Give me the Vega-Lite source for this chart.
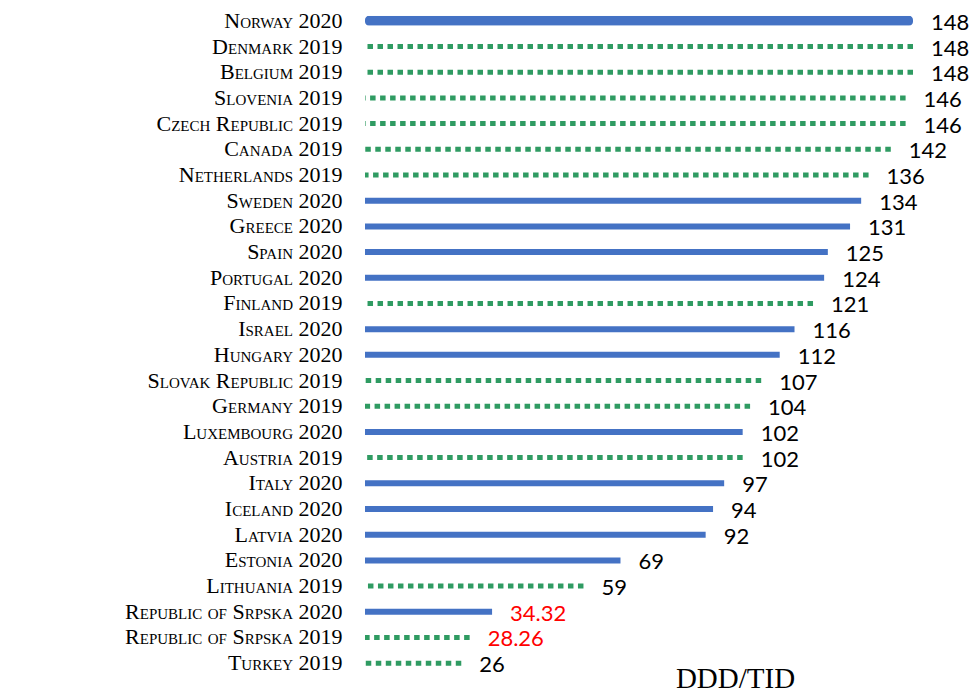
{
  "$schema": "https://vega.github.io/schema/vega-lite/v6.json",
  "width": 548,
  "height": 668,
  "autosize": {"type": "none"},
  "padding": {"left": 365, "top": 8, "right": 60, "bottom": 16},
  "background": "white",
  "config": {
    "view": {"stroke": null},
    "style": {"guide-label": {"fontVariant": "small-caps"}}
  },
  "data": {
    "values": [
      {"label": "Norway 2020", "year": 2020, "value": 148},
      {"label": "Denmark 2019", "year": 2019, "value": 148},
      {"label": "Belgium 2019", "year": 2019, "value": 148},
      {"label": "Slovenia 2019", "year": 2019, "value": 146},
      {"label": "Czech Republic 2019", "year": 2019, "value": 146},
      {"label": "Canada 2019", "year": 2019, "value": 142},
      {"label": "Netherlands 2019", "year": 2019, "value": 136},
      {"label": "Sweden 2020", "year": 2020, "value": 134},
      {"label": "Greece 2020", "year": 2020, "value": 131},
      {"label": "Spain 2020", "year": 2020, "value": 125},
      {"label": "Portugal 2020", "year": 2020, "value": 124},
      {"label": "Finland 2019", "year": 2019, "value": 121},
      {"label": "Israel 2020", "year": 2020, "value": 116},
      {"label": "Hungary 2020", "year": 2020, "value": 112},
      {"label": "Slovak Republic 2019", "year": 2019, "value": 107},
      {"label": "Germany 2019", "year": 2019, "value": 104},
      {"label": "Luxembourg 2020", "year": 2020, "value": 102},
      {"label": "Austria 2019", "year": 2019, "value": 102},
      {"label": "Italy 2020", "year": 2020, "value": 97},
      {"label": "Iceland 2020", "year": 2020, "value": 94},
      {"label": "Latvia 2020", "year": 2020, "value": 92},
      {"label": "Estonia 2020", "year": 2020, "value": 69},
      {"label": "Lithuania 2019", "year": 2019, "value": 59},
      {"label": "Republic of Srpska 2020", "year": 2020, "value": 34.32},
      {"label": "Republic of Srpska 2019", "year": 2019, "value": 28.26},
      {"label": "Turkey 2019", "year": 2019, "value": 26}
    ]
  },
  "encoding": {
    "y": {
      "field": "label",
      "type": "nominal",
      "sort": ["Norway 2020", "Denmark 2019", "Belgium 2019", "Slovenia 2019", "Czech Republic 2019", "Canada 2019", "Netherlands 2019", "Sweden 2020", "Greece 2020", "Spain 2020", "Portugal 2020", "Finland 2019", "Israel 2020", "Hungary 2020", "Slovak Republic 2019", "Germany 2019", "Luxembourg 2020", "Austria 2019", "Italy 2020", "Iceland 2020", "Latvia 2020", "Estonia 2020", "Lithuania 2019", "Republic of Srpska 2020", "Republic of Srpska 2019", "Turkey 2019"],
      "scale": {"paddingInner": 0, "paddingOuter": 0},
      "axis": {
        "title": null,
        "domain": false,
        "ticks": false,
        "labelPadding": 23,
        "labelFont": "Liberation Serif",
        "labelFontSize": 22,
        "labelColor": "black",
        "labelLimit": 500
      }
    }
  },
  "layer": [
    {
      "transform": [{"filter": "datum.year === 2020 && datum.label !== 'Norway 2020'"}],
      "mark": {"type": "bar", "height": 6, "color": "#4472C4"},
      "encoding": {
        "x": {
          "field": "value",
          "type": "quantitative",
          "scale": {"domain": [0, 148], "nice": false, "zero": true},
          "axis": {
            "labels": false,
            "ticks": false,
            "domain": false,
            "grid": false,
            "title": "DDD/TID",
            "titleFont": "Liberation Serif",
            "titleFontSize": 29,
            "titleFontWeight": "normal",
            "titleColor": "black",
            "titleX": 370,
            "titleY": 11,
            "titleAlign": "center",
            "titleBaseline": "alphabetic"
          }
        }
      }
    },
    {
      "transform": [{"filter": "datum.label === 'Norway 2020'"}],
      "mark": {"type": "bar", "height": 10, "cornerRadius": 4, "color": "#4472C4"},
      "encoding": {
        "x": {"field": "value", "type": "quantitative"}
      }
    },
    {
      "transform": [{"filter": "datum.year === 2019"}],
      "mark": {"type": "rule", "strokeWidth": 5, "strokeDash": [5.5, 4.5], "color": "#2F9B62"},
      "encoding": {
        "x": {"field": "value", "type": "quantitative"},
        "x2": {"datum": 0}
      }
    },
    {
      "mark": {"type": "text", "align": "left", "baseline": "middle", "dx": 18, "dy": 2, "font": "Lato", "fontSize": 22},
      "encoding": {
        "x": {"field": "value", "type": "quantitative"},
        "text": {"field": "value", "type": "nominal"},
        "color": {
          "condition": {"test": "indexof(datum.label, 'Srpska') >= 0", "value": "#FF0000"},
          "value": "black"
        }
      }
    }
  ]
}
